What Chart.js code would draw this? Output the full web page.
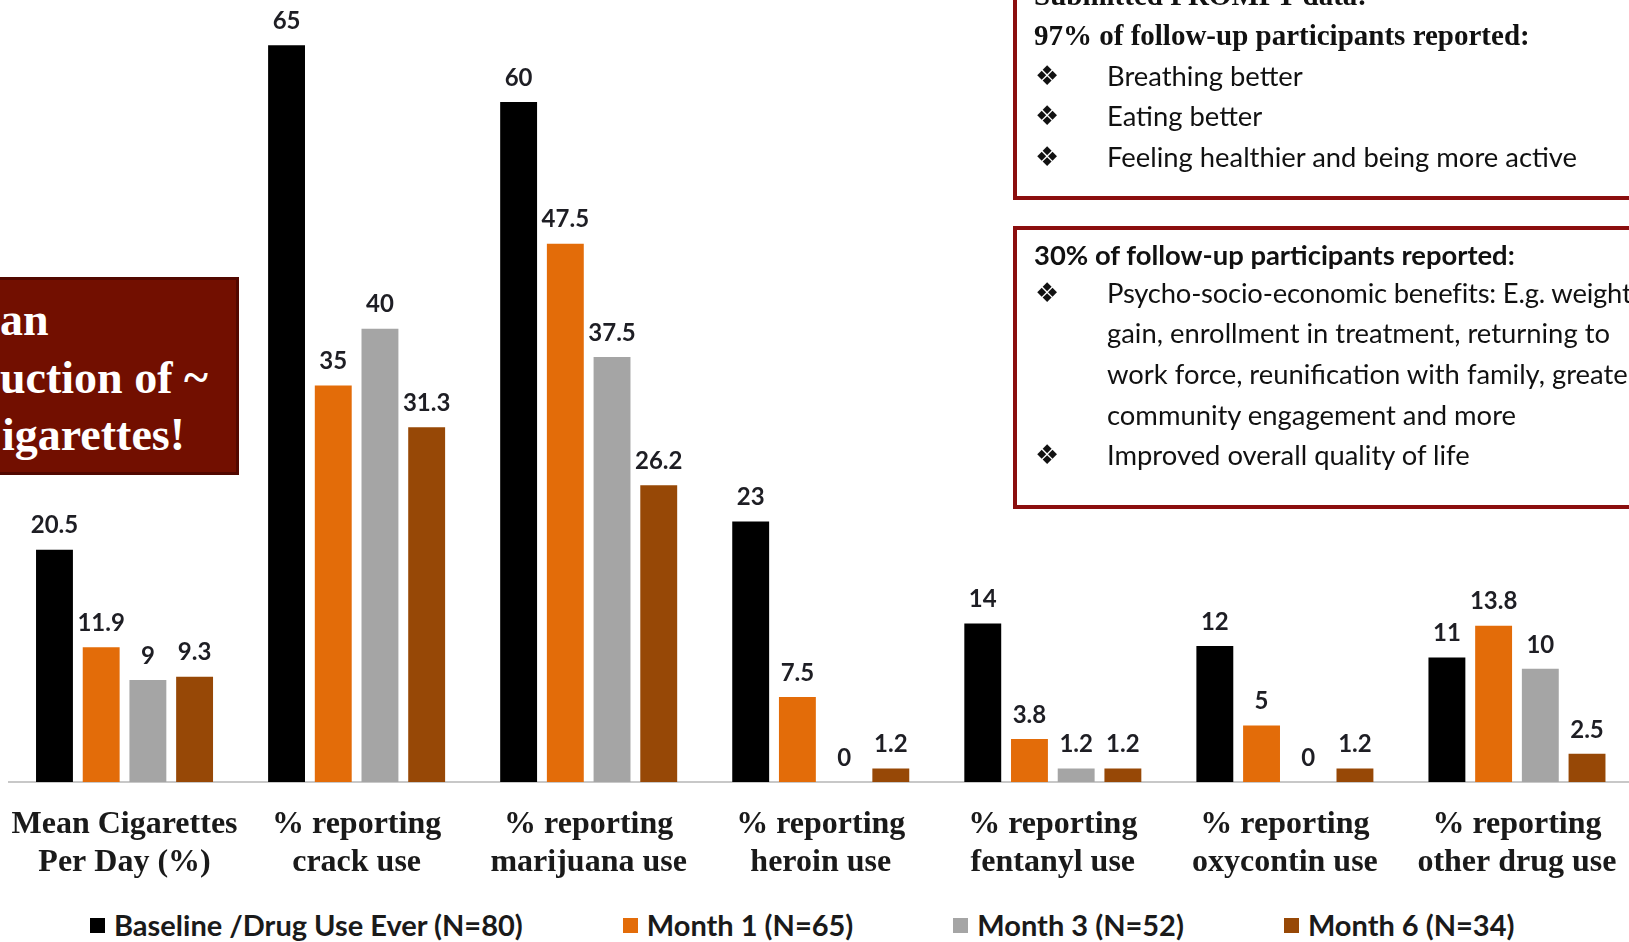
<!DOCTYPE html>
<html>
<head>
<meta charset="utf-8">
<script src="https://cdn.jsdelivr.net/npm/chart.js@4/dist/chart.umd.min.js"></script>
<style>
  body { margin: 0; width: 1629px; height: 942px; overflow: hidden; background: #fff; position: relative; }
  #chart { position: absolute; left: 0; top: 0; }
  .box { position: absolute; box-sizing: border-box; }
  .line { position: absolute; white-space: nowrap; }
  .serif { font-family: "Liberation Serif", "Times New Roman", serif; font-weight: bold; color: #111; }
  .sans { font-family: Lato, "Open Sans", sans-serif; color: #111; font-size: 27.4px; line-height: 28px; }
  .bullet { font-family: "DejaVu Sans", sans-serif; font-size: 27px; line-height: 28px; color: #111; }
  #legend { position: absolute; left: 90px; top: 911px; display: flex; gap: 100px;
            font-family: Lato, sans-serif; font-weight: bold; font-size: 29px; line-height: 28px; color: #1a1a1a; }
  #legend .item { display: flex; align-items: center; white-space: nowrap; }
  #legend .swatch { width: 15px; height: 15px; margin-right: 9px; }
</style>
</head>
<body>
<canvas id="chart" width="1650" height="905"></canvas>

<!-- left callout -->
<div class="box" style="left:-4px; top:277px; width:243px; height:198px; background:#720f00; border:3px solid #520800;"></div>
<div class="line serif" style="left:0; top:297px; font-size:46px; line-height:46px; color:#fff;">an</div>
<div class="line serif" style="left:0; top:355px; font-size:46px; line-height:46px; color:#fff;">uction of ~</div>
<div class="line serif" style="left:2px; top:412px; font-size:46px; line-height:46px; color:#fff;">igarettes!</div>

<!-- top right box 1 -->
<div class="box" style="left:1013px; top:-60px; width:640px; height:260px; border:4px solid #8b0e0e;"></div>
<div class="line serif" style="left:1034px; top:-20px; font-size:29px; line-height:30px;">Submitted PROMPT data:</div>
<div class="line serif" style="left:1034px; top:20px; font-size:29px; line-height:30px;">97% of follow-up participants reported:</div>
<div class="line bullet" style="left:1035px; top:62px;">❖</div>
<div class="line sans" style="left:1107px; top:62px;">Breathing better</div>
<div class="line bullet" style="left:1035px; top:102px;">❖</div>
<div class="line sans" style="left:1107px; top:102px;">Eating better</div>
<div class="line bullet" style="left:1035px; top:143px;">❖</div>
<div class="line sans" style="left:1107px; top:143px;">Feeling healthier and being more active</div>

<!-- top right box 2 -->
<div class="box" style="left:1013px; top:226px; width:640px; height:283px; border:4px solid #8b0e0e;"></div>
<div class="line sans" style="left:1034px; top:241px; font-weight:bold;">30% of follow-up participants reported:</div>
<div class="line bullet" style="left:1035px; top:279px;">❖</div>
<div class="line sans" style="left:1107px; top:279px; letter-spacing:-0.2px;">Psycho-socio-economic benefits: E.g. weight</div>
<div class="line sans" style="left:1107px; top:319px;">gain, enrollment in treatment, returning to</div>
<div class="line sans" style="left:1107px; top:360px;">work force, reunification with family, greater</div>
<div class="line sans" style="left:1107px; top:401px;">community engagement and more</div>
<div class="line bullet" style="left:1035px; top:441px;">❖</div>
<div class="line sans" style="left:1107px; top:441px;">Improved overall quality of life</div>

<div id="legend"></div>

<script>
// categories (x axis, two lines each)
const categories = [
    ['Mean Cigarettes', 'Per Day (%)'],
    ['% reporting', 'crack use'],
    ['% reporting', 'marijuana use'],
    ['% reporting', 'heroin use'],
    ['% reporting', 'fentanyl use'],
    ['% reporting', 'oxycontin use'],
    ['% reporting', 'other drug use']
];

const seriesNames = ['Baseline /Drug Use Ever (N=80)', 'Month 1 (N=65)', 'Month 3 (N=52)', 'Month 6 (N=34)'];
const seriesColors = ['#000000', '#e36c09', '#a5a5a5', '#974806'];

const baseline = [20.5, 65, 60, 23, 14, 12, 11];
const month1 = [11.9, 35, 47.5, 7.5, 3.8, 5, 13.8];
const month3 = [9, 40, 37.5, 0, 1.2, 0, 10];
const month6 = [9.3, 31.3, 26.2, 1.2, 1.2, 1.2, 2.5];

const seriesValues = [baseline, month1, month3, month6];

// value labels above each bar
const valueLabels = {
    id: 'valueLabels',
    afterDatasetsDraw(chart) {
        const ctx = chart.ctx;
        ctx.save();
        ctx.font = 'bold 24px Lato';
        ctx.fillStyle = '#1e1e24';
        ctx.textAlign = 'center';
        ctx.textBaseline = 'middle';
        chart.data.datasets.forEach((ds, i) => {
            chart.getDatasetMeta(i).data.forEach((bar, j) => {
                ctx.fillText(String(ds.data[j]), bar.x, bar.y - 24);
            });
        });
        ctx.restore();
    }
};

const chart = new Chart(document.getElementById('chart'), {
    type: 'bar',
    data: {
        labels: categories,
        datasets: seriesValues.map((vals, i) => ({
            label: seriesNames[i],
            data: vals,
            backgroundColor: seriesColors[i],
            categoryPercentage: 0.805,
            barPercentage: 0.79
        }))
    },
    options: {
        responsive: false,
        animation: false,
        layout: { padding: { left: 8.5, right: 17, top: 0, bottom: 0 } },
        plugins: {
            legend: { display: false },
            tooltip: { enabled: false }
        },
        scales: {
            x: {
                grid: { display: false, drawTicks: false },
                border: { display: true, color: '#c8c8c8', width: 2 },
                ticks: {
                    autoSkip: false,
                    maxRotation: 0,
                    padding: 24,
                    color: '#1a1a1a',
                    font: { family: '"Liberation Serif", "Times New Roman", serif', weight: 'bold', size: 32, lineHeight: 1.17 }
                },
                // labels may hang past the plot edges, as in the original
                afterFit: (scale) => {
                    scale.paddingLeft = 0;
                    scale.paddingRight = 0;
                }
            },
            y: {
                display: false,
                min: 0,
                max: 69
            }
        }
    },
    plugins: [valueLabels]
});

// html legend built from the chart's datasets
const legendEl = document.getElementById('legend');
chart.data.datasets.forEach(ds => {
    const item = document.createElement('div');
    item.className = 'item';
    item.innerHTML = '<span class="swatch" style="background:' + ds.backgroundColor + '"></span>' + ds.label;
    legendEl.appendChild(item);
});
</script>
</body>
</html>
